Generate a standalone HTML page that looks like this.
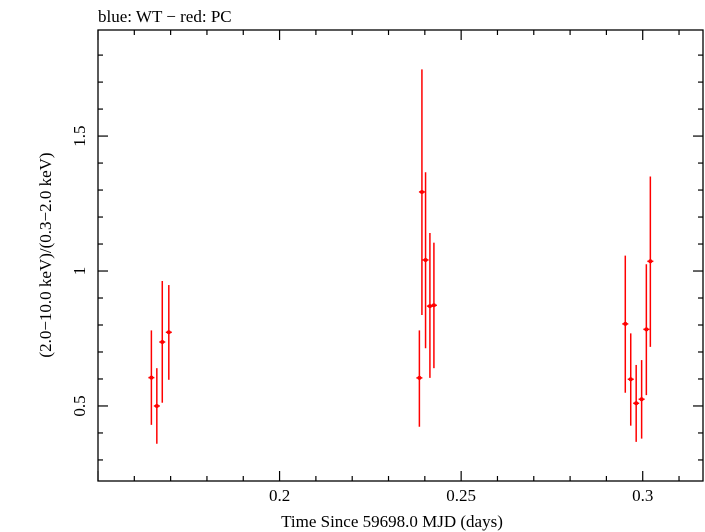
<!DOCTYPE html>
<html><head><meta charset="utf-8"><style>
html,body{margin:0;padding:0;background:#fff;}
svg{display:block;font-family:"Liberation Serif",serif;}
</style></head><body>
<svg id="chart" width="705" height="532" xmlns="http://www.w3.org/2000/svg">
<text x="98" y="22" font-size="17">blue: WT − red: PC</text>
<rect x="98" y="30" width="605" height="451" fill="none" stroke="#000" stroke-width="1.3"/>
<g id="axes"></g>
<g id="marks"></g>
<text x="392" y="527" font-size="17" text-anchor="middle">Time Since 59698.0 MJD (days)</text>
<text transform="translate(51,255) rotate(-90)" font-size="17" text-anchor="middle">(2.0−10.0 keV)/(0.3−2.0 keV)</text>
</svg>
<script>
const times = [0.1647,0.1662,0.1677,0.1695,0.2385,0.2392,0.2402,0.2414,0.2425,0.2952,0.2967,0.2982,0.2997,0.3010,0.3021];
const ratios = [0.605,0.50,0.737,0.773,0.604,1.293,1.041,0.870,0.873,0.804,0.599,0.510,0.525,0.784,1.036];
const errHigh = [0.78,0.64,0.963,0.948,0.78,1.747,1.366,1.141,1.105,1.057,0.769,0.652,0.67,1.025,1.35];
const errLow = [0.43,0.36,0.512,0.597,0.423,0.837,0.714,0.604,0.64,0.549,0.427,0.367,0.379,0.54,0.719];
const xTicks = [0.2,0.25,0.3];
const xTickLabels = ["0.2","0.25","0.3"];
const yTicks = [0.5,1,1.5];
const yTickLabels = ["0.5","1","1.5"];

const L=98,R=703,T=30,B=481;
const xMin=0.15,xMax=0.3166,yMin=0.222,yMax=1.893;
const sx=v=>L+(v-xMin)/(xMax-xMin)*(R-L);
const sy=v=>B-(v-yMin)/(yMax-yMin)*(B-T);
const NS="http://www.w3.org/2000/svg";
function mk(tag,attrs,parent){const e=document.createElementNS(NS,tag);for(const k in attrs)e.setAttribute(k,attrs[k]);parent.appendChild(e);return e;}
const axes=document.getElementById('axes'), marks=document.getElementById('marks');
// minor x ticks
for(let i=15;i<=31;i++){const v=i/100;const x=sx(v);const major=(i%5===0);const len=major?10:5;
 let t=mk('line',{x1:x,x2:x,y1:B,y2:B-len,stroke:'#000','stroke-width':1.2},axes);
 
 
 let t2=mk('line',{x1:x,x2:x,y1:T,y2:T+len,stroke:'#000','stroke-width':1.2},axes);
 
 }
for(let i=3;i<=18;i++){const v=i/10;const y=sy(v);const major=(i%5===0);const len=major?10:5;
 let t=mk('line',{x1:L,x2:L+len,y1:y,y2:y,stroke:'#000','stroke-width':1.2},axes);
 
 
 let t2=mk('line',{x1:R,x2:R-len,y1:y,y2:y,stroke:'#000','stroke-width':1.2},axes);
 
 }
xTicks.forEach((v,i)=>{const t=mk('text',{x:sx(v),y:B+20,'font-size':17,'text-anchor':'middle'},axes);t.textContent=xTickLabels[i];
 
 });
yTicks.forEach((v,i)=>{const t=mk('text',{transform:`translate(85,${sy(v)}) rotate(-90)`,'font-size':17,'text-anchor':'middle'},axes);t.textContent=yTickLabels[i];
 
 });
times.forEach((tv,i)=>{const x=sx(tv),y=sy(ratios[i]);
 const g=mk('g',{},marks);
 
 
 mk('line',{x1:x,x2:x,y1:sy(errHigh[i]),y2:sy(errLow[i]),stroke:'#f00','stroke-width':1.5},g);
 mk('line',{x1:x-3,x2:x+3,y1:y,y2:y,stroke:'#f00','stroke-width':1.5},g);
 mk('circle',{cx:x,cy:y,r:2,fill:'#f00'},g);});
</script>
</body></html>
